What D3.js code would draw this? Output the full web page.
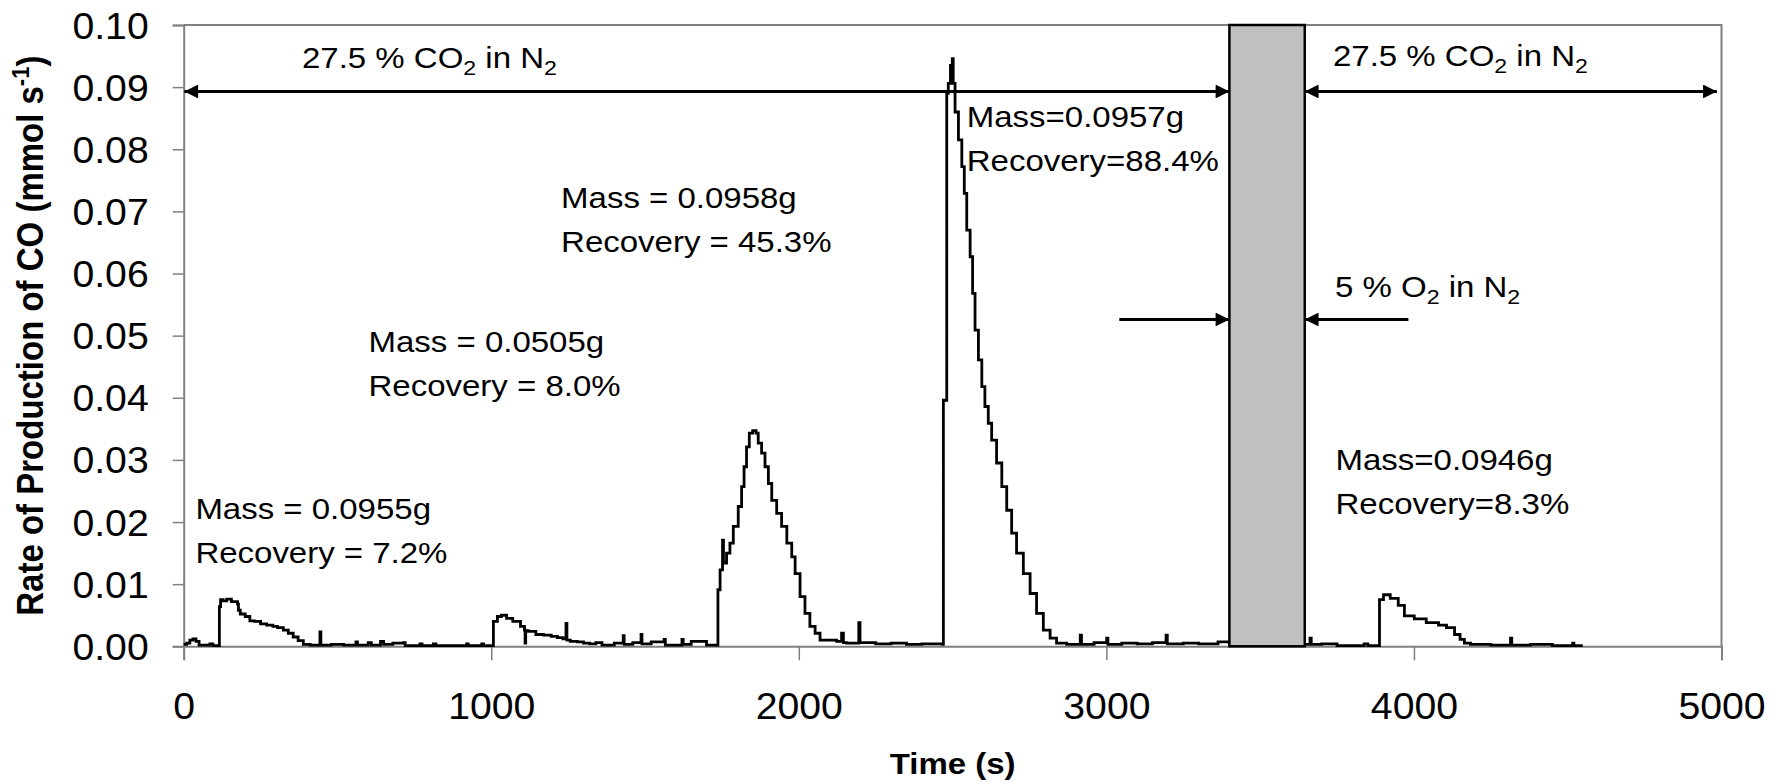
<!DOCTYPE html>
<html>
<head>
<meta charset="utf-8">
<script src="https://cdn.jsdelivr.net/npm/d3@7"></script>
<style>
  body { margin: 0; background: #fff; }
  text { font-family: "Liberation Sans", Arial, sans-serif; fill: #000; }
</style>
</head>
<body>
<script>
// chart size
const width = 1778, height = 784;
const margin = { top: 25, right: 56.5, bottom: 137.7, left: 183.7 };
// glyphs in the source image are a bit wider than tall
const sx = 1.1;

// CO production trace (time in s, rate in mmol/s)
const timeS = [0, 10, 20, 30, 40, 50, 70, 85, 95, 114, 116, 120, 128, 140, 155, 172, 175, 178, 184, 200,
  215, 230, 250, 270, 290, 305, 324, 340, 356, 372, 389, 411, 440, 443, 446, 480, 520, 560, 565, 600,
  610, 640, 650, 680, 714, 720, 768, 775, 812, 820, 920, 925, 969, 975, 1005, 1007, 1020, 1033, 1050, 1070,
  1095, 1108, 1110, 1112, 1120, 1145, 1170, 1195, 1215, 1233, 1243, 1246, 1257, 1280, 1300, 1320, 1340, 1360, 1400, 1429,
  1432, 1460, 1487, 1490, 1520, 1562, 1566, 1620, 1624, 1650, 1700, 1735, 1737, 1744, 1752, 1755, 1765, 1776, 1787, 1803,
  1814, 1822, 1830, 1839, 1850, 1861, 1868, 1879, 1890, 1901, 1912, 1928, 1944, 1961, 1977, 1988, 2004, 2020, 2036, 2053,
  2069, 2090, 2123, 2139, 2145, 2155, 2195, 2199, 2250, 2300, 2350, 2400, 2468, 2470, 2481, 2486, 2493, 2499, 2502, 2508,
  2519, 2530, 2538, 2546, 2557, 2565, 2573, 2584, 2595, 2605, 2616, 2627, 2643, 2660, 2676, 2692, 2708, 2730, 2752, 2773,
  2795, 2817, 2838, 2871, 2915, 2919, 2960, 3001, 3005, 3050, 3100, 3150, 3194, 3198, 3250, 3300, 3363, 3395, 3400, 3645,
  3662, 3666, 3700, 3750, 3838, 3850, 3886, 3888, 3901, 3923, 3949, 3969, 4001, 4040, 4080, 4106, 4132, 4150, 4164, 4184,
  4250, 4314, 4318, 4379, 4450, 4516, 4520, 4549];
const rateCO = [0.0003, 0.0005, 0.0010, 0.0012, 0.0008, 0.0002, 0.0002, 0.0004, 0.0001, 0.0001, 0.0064, 0.0075, 0.0073, 0.0076, 0.0072, 0.0072, 0.0068, 0.0058, 0.0052, 0.0048,
  0.0041, 0.0040, 0.0036, 0.0034, 0.0032, 0.0030, 0.0026, 0.0021, 0.0015, 0.0009, 0.0003, 0.0002, 0.0002, 0.0023, 0.0002, 0.0003, 0.0002, 0.0007, 0.0002, 0.0006,
  0.0002, 0.0008, 0.0003, 0.0005, 0.0006, 0.0001, 0.0004, 0.0001, 0.0004, 0.0001, 0.0004, 0.0001, 0.0004, 0.0001, 0.0001, 0.0040, 0.0048, 0.0050, 0.0045, 0.0040,
  0.0032, 0.0026, 0.0005, 0.0025, 0.0024, 0.0019, 0.0018, 0.0016, 0.0014, 0.0012, 0.0037, 0.0010, 0.0008, 0.0007, 0.0005, 0.0004, 0.0006, 0.0002, 0.0005, 0.0017,
  0.0003, 0.0006, 0.0019, 0.0004, 0.0007, 0.0011, 0.0002, 0.0011, 0.0003, 0.0008, 0.0002, 0.0002, 0.0091, 0.0123, 0.0171, 0.0134, 0.0150, 0.0166, 0.0193, 0.0225,
  0.0257, 0.0289, 0.0321, 0.0343, 0.0347, 0.0343, 0.0327, 0.0311, 0.0289, 0.0262, 0.0235, 0.0214, 0.0193, 0.0166, 0.0144, 0.0117, 0.0080, 0.0053, 0.0032, 0.0021,
  0.0010, 0.0010, 0.0008, 0.0021, 0.0006, 0.0005, 0.0038, 0.0006, 0.0004, 0.0005, 0.0003, 0.0004, 0.0003, 0.0396, 0.0890, 0.0906, 0.0935, 0.0946, 0.0906, 0.0860,
  0.0815, 0.0772, 0.0729, 0.0670, 0.0627, 0.0568, 0.0509, 0.0461, 0.0418, 0.0386, 0.0359, 0.0332, 0.0295, 0.0257, 0.0219, 0.0182, 0.0150, 0.0117, 0.0085, 0.0053,
  0.0026, 0.0013, 0.0005, 0.0003, 0.0018, 0.0003, 0.0006, 0.0013, 0.0003, 0.0005, 0.0004, 0.0006, 0.0018, 0.0004, 0.0005, 0.0004, 0.0007, 0.0007, 0.0003, 0.0003,
  0.0013, 0.0003, 0.0004, 0.0001, 0.0004, 0.0001, 0.0001, 0.0075, 0.0083, 0.0077, 0.0066, 0.0049, 0.0044, 0.0038, 0.0034, 0.0030, 0.0019, 0.0011, 0.0005, 0.0003,
  0.0002, 0.0013, 0.0002, 0.0003, 0.0001, 0.0005, 0.0001, 0.0001];

// axis ticks
const xTicks = [0, 1000, 2000, 3000, 4000, 5000];
const yTicks = [0, 0.01, 0.02, 0.03, 0.04, 0.05, 0.06, 0.07, 0.08, 0.09, 0.10];

// the 5 % O2 purge window (s)
const purgeWindow = [3400, 3645];

// sample labels: [time at text start, rate at first baseline, mass line, recovery line]
const sampleLabels = [
  [38, 0.0205, "Mass = 0.0955g", "Recovery = 7.2%"],
  [601, 0.0474, "Mass = 0.0505g", "Recovery = 8.0%"],
  [1227, 0.0706, "Mass = 0.0958g", "Recovery = 45.3%"],
  [2546, 0.0836, "Mass=0.0957g", "Recovery=88.4%"],
  [3745, 0.0283, "Mass=0.0946g", "Recovery=8.3%"]
];

const svg = d3.select("body").append("svg")
  .attr("width", width)
  .attr("height", height);

const x = d3.scaleLinear().domain([0, 5000]).range([margin.left, width - margin.right]);
const y = d3.scaleLinear().domain([0, 0.1]).range([height - margin.bottom, margin.top]);

const axisGrey = "#808080";

// plot frame (top and right)
svg.append("path")
  .attr("d", `M${x(0)},${y(0.1)}H${x(5000)}V${y(0)}`)
  .attr("fill", "none")
  .attr("stroke", axisGrey)
  .attr("stroke-width", 2);

// y axis
const yAxis = svg.append("g")
  .attr("transform", `translate(${x(0)},0)`)
  .call(d3.axisLeft(y).tickValues(yTicks).tickSize(11).tickFormat(d3.format(".2f")));
yAxis.select(".domain").attr("stroke", axisGrey).attr("stroke-width", 2);
yAxis.selectAll(".tick line").attr("stroke", axisGrey).attr("stroke-width", 1.5);
yAxis.selectAll(".tick text")
  .attr("x", null).attr("dy", null)
  .attr("font-size", 37)
  .attr("text-anchor", "end")
  .attr("transform", `translate(-35,13) scale(1.06,1)`);

// x axis
const xAxis = svg.append("g")
  .attr("transform", `translate(0,${y(0)})`)
  .call(d3.axisBottom(x).tickValues(xTicks).tickSize(14).tickFormat(d3.format("d")));
xAxis.select(".domain").attr("stroke", axisGrey).attr("stroke-width", 2);
xAxis.selectAll(".tick line").attr("stroke", axisGrey).attr("stroke-width", 1.5);
xAxis.selectAll(".tick text")
  .attr("y", null).attr("dy", null)
  .attr("font-size", 37)
  .attr("text-anchor", "middle")
  .attr("transform", `translate(0,73) scale(1.06,1)`);

// CO trace
const line = d3.line()
  .x((d, i) => x(timeS[i]))
  .y(d => y(d))
  .curve(d3.curveStepAfter);

svg.append("path")
  .datum(rateCO)
  .attr("d", line)
  .attr("fill", "none")
  .attr("stroke", "#000")
  .attr("stroke-width", 2.8)
  .attr("stroke-linejoin", "miter");

// grey purge bar
svg.append("rect")
  .attr("x", x(purgeWindow[0]))
  .attr("y", y(0.1))
  .attr("width", x(purgeWindow[1]) - x(purgeWindow[0]))
  .attr("height", y(0) - y(0.1))
  .attr("fill", "#c0c0c0")
  .attr("stroke", "#000")
  .attr("stroke-width", 2.5);

// arrow heads
const defs = svg.append("defs");
defs.append("marker")
  .attr("id", "head")
  .attr("viewBox", "0 0 10 10")
  .attr("refX", 10).attr("refY", 5)
  .attr("markerWidth", 5).attr("markerHeight", 4.6)
  .attr("markerUnits", "strokeWidth")
  .attr("orient", "auto-start-reverse")
  .append("path")
  .attr("d", "M0,0L10,5L0,10z")
  .attr("fill", "#000");

function arrow(t0, t1, v, both) {
  svg.append("line")
    .attr("x1", x(t0)).attr("x2", x(t1))
    .attr("y1", y(v)).attr("y2", y(v))
    .attr("stroke", "#000")
    .attr("stroke-width", 3)
    .attr("marker-end", "url(#head)")
    .attr("marker-start", both ? "url(#head)" : null);
}

// gas atmosphere arrows
arrow(2, purgeWindow[0], 0.0893, true);
arrow(purgeWindow[1], 4985, 0.0893, true);
arrow(3042, purgeWindow[0], 0.0526, false);
arrow(3982, purgeWindow[1], 0.0526, false);

// text helper: gas label with subscripts
function gasLabel(px, py, parts) {
  const t = svg.append("text")
    .attr("font-size", 30)
    .attr("transform", `translate(${px},${py}) scale(${sx},1)`);
  parts.forEach(p => {
    t.append("tspan")
      .attr("font-size", p.sub ? 21 : 30)
      .attr("dy", p.sub ? 7 : (p.back ? -7 : 0))
      .text(p.s);
  });
}

gasLabel(302, 68, [{ s: "27.5 % CO" }, { s: "2", sub: true }, { s: " in N", back: true }, { s: "2", sub: true }]);
gasLabel(1333, 66, [{ s: "27.5 % CO" }, { s: "2", sub: true }, { s: " in N", back: true }, { s: "2", sub: true }]);
gasLabel(1335, 297, [{ s: "5 % O" }, { s: "2", sub: true }, { s: " in N", back: true }, { s: "2", sub: true }]);

// mass / recovery labels
sampleLabels.forEach(d => {
  const g = svg.append("g")
    .attr("transform", `translate(${x(d[0])},${y(d[1])}) scale(${sx},1)`);
  g.append("text").attr("font-size", 30).text(d[2]);
  g.append("text").attr("font-size", 30).attr("y", 44).text(d[3]);
});

// axis titles
svg.append("text")
  .attr("font-size", 30)
  .attr("font-weight", "bold")
  .attr("text-anchor", "middle")
  .attr("transform", `translate(${(x(0) + x(5000)) / 2},774) scale(${sx},1)`)
  .text("Time (s)");

const yTitle = svg.append("text")
  .attr("font-size", 33)
  .attr("font-weight", "bold")
  .attr("text-anchor", "middle")
  .attr("transform", `translate(43,${(y(0) + y(0.1)) / 2}) scale(${sx},1) rotate(-90)`);
yTitle.append("tspan").text("Rate of Production of CO (mmol s");
yTitle.append("tspan").attr("font-size", 22).attr("dy", -13).text("-1");
yTitle.append("tspan").attr("dy", 13).text(")");
</script>
</body>
</html>
